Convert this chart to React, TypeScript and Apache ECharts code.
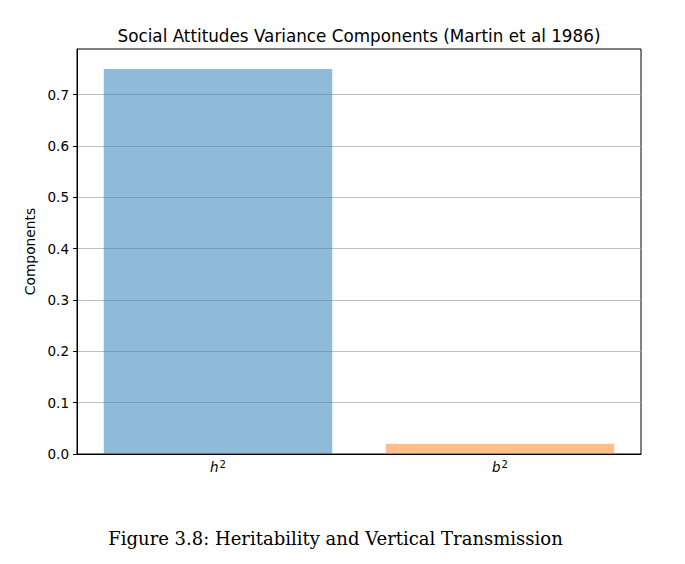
import React, { useEffect, useRef } from "react";
import * as echarts from "echarts";

const categories = ["h²", "b²"];
const values = [0.75, 0.02];
const yTicks = [0, 0.1, 0.2, 0.3, 0.4, 0.5, 0.6, 0.7];
const barColors = ["rgba(31,119,180,0.5)", "rgba(255,127,14,0.5)"];
const title = "Social Attitudes Variance Components (Martin et al 1986)";
const yName = "Components";
const caption = "Figure 3.8: Heritability and Vertical Transmission";

export default function App() {
  const ref = useRef<HTMLDivElement>(null);
  useEffect(() => {
    if (!ref.current) return;
    const chart = echarts.init(ref.current, undefined, { renderer: "svg" });
    const font = "DejaVu Sans";
    chart.setOption({
      animation: false,
      backgroundColor: "#ffffff",
      title: {
        text: title,
        left: 354,
        top: 22,
        textAlign: "center",
        textStyle: { fontFamily: font, fontSize: 16.8, fontWeight: "normal", color: "#000" },
      },
      grid: {
        left: 77,
        right: 44,
        top: 49,
        bottom: 110,
        show: true,
        borderColor: "#000",
        borderWidth: 1,
        containLabel: false,
      },
      xAxis: {
        type: "category",
        data: categories,
        axisLine: { lineStyle: { color: "#000", width: 1 } },
        axisTick: { alignWithLabel: true, length: 4, lineStyle: { color: "#000" } },
        axisLabel: {
          margin: 5,
          formatter: (v: string) => `{i|${v.slice(0, -1)}}{s|2}`,
          rich: {
            i: { fontFamily: font, fontStyle: "italic", fontSize: 13.5, color: "#000" },
            s: { fontFamily: font, fontStyle: "normal", fontSize: 10, color: "#000", verticalAlign: "top", padding: [0, 0, 6, 1] },
          },
        },
      },
      yAxis: {
        type: "value",
        min: 0,
        max: 0.789,
        interval: 0.1,
        name: yName,
        nameLocation: "middle",
        nameGap: 40,
        nameTextStyle: { fontFamily: font, fontSize: 13.8, color: "#000" },
        axisLine: { show: true, lineStyle: { color: "#000", width: 1 } },
        axisTick: { show: true, length: 4, lineStyle: { color: "#000" }, customValues: yTicks },
        axisLabel: {
          fontFamily: font,
          fontSize: 13.5,
          color: "#000",
          margin: 8,
          customValues: yTicks,
          formatter: (v: number) => v.toFixed(1),
        },
        splitLine: { show: true, lineStyle: { color: "#b0b0b0", width: 0.8 } },
      },
      series: [
        {
          type: "bar",
          barWidth: "81%",
          data: values.map((v, i) => ({ value: v, itemStyle: { color: barColors[i] } })),
        },
      ],
      graphic: [
        {
          type: "text",
          x: 335.5,
          y: 538,
          style: {
            text: caption,
            fontFamily: "DejaVu Serif",
            fontSize: 18,
            fill: "#000",
            textAlign: "center",
            textVerticalAlign: "middle",
          },
        },
      ],
    });
    return () => chart.dispose();
  }, []);
  return (
    <div
      ref={ref}
      style={{ position: "fixed", left: 0, top: 0, width: 685, height: 564 }}
    />
  );
}
